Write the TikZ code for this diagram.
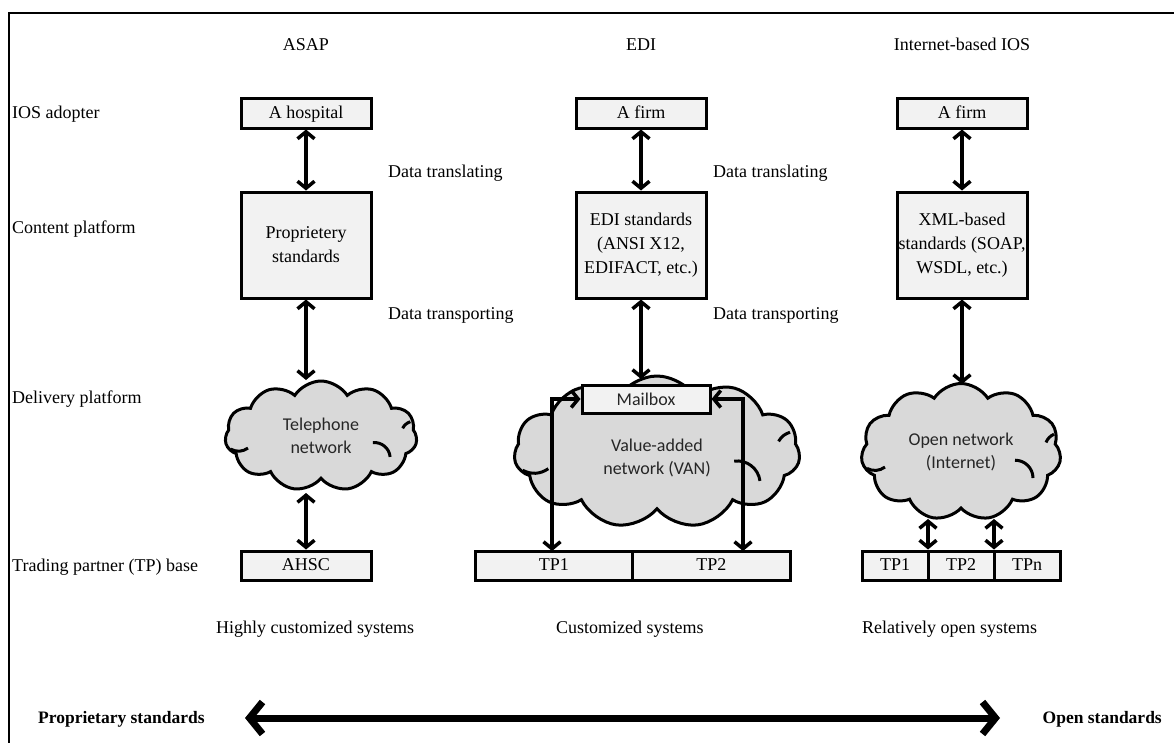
\documentclass[tikz,border=0pt]{standalone}
\usepackage{fontspec}
\setmainfont{Liberation Serif}
\newfontfamily\cloudfont{Carlito}
\usetikzlibrary{arrows.meta,shapes.symbols,calc}
\definecolor{boxfill}{HTML}{F2F2F2}
\definecolor{cloudfill}{HTML}{D9D9D9}
\definecolor{cloudtext}{HTML}{262626}
\tikzset{
  txt/.style={font=\fontsize{18}{23}\selectfont, inner sep=0pt, text height=12pt, text depth=2pt},
  boldtxt/.style={font=\bfseries\fontsize{17.5}{23}\selectfont, inner sep=0pt, text height=12pt, text depth=2pt},
  stdbox/.style={draw, line width=3pt, fill=boxfill, align=center, inner sep=0pt,
    font=\fontsize{18}{24}\selectfont, minimum width=130pt, minimum height=30pt},
  oneline/.style={text height=12pt, text depth=2pt},
  netcloud/.style={cloud, cloud puffs=11, cloud puff arc=115, cloud ignores aspect,
    draw, line width=3pt, fill=cloudfill, align=center, inner sep=0pt,
    font=\cloudfont\fontsize{18}{23}\selectfont, text=cloudtext},
  barb/.tip={Straight Barb[length=7pt,width=17pt]},
  dbl/.style={line width=3.5pt, barb-barb},
  wide/.style={line width=7pt, {Straight Barb[length=13pt,width=32pt]}-{Straight Barb[length=13pt,width=32pt]}}
}
% inner curls of a cloud, given its top-left corner, width and height
\newcommand{\cloudcurls}[4]{%
  \begin{scope}[shift={(#1,#2)}, x=#3pt, y=-#4pt, line width=3pt]
    \draw (0.03,0.62) to[bend right=30] (0.12,0.61);
    \draw (0.77,0.56) to[bend left=45] (0.86,0.69);
    \draw (0.925,0.43) to[bend left=20] (0.965,0.37);
  \end{scope}}
\begin{document}
\begin{tikzpicture}[x=1pt,y=-1pt]
\useasboundingbox (0,0) rectangle (1174,742);
% outer frame
\draw[line width=2pt] (9,745) -- (9,13) -- (1180,13);

% column headings
\node[txt] (hA) at (306,45) {ASAP};
\node[txt] (hE) at (641,45) {EDI};
\node[txt] (hI) at (962,45) {Internet-based IOS};

% row headings
\node[txt, anchor=west] (r1) at (12,113) {IOS adopter};
\node[txt, anchor=west] (r2) at (12,228) {Content platform};
\node[txt, anchor=west] (r3) at (12,398) {Delivery platform};
\node[txt, anchor=west] (r4) at (12,566) {Trading partner (TP) base};

% adopters
\node[stdbox, oneline] (a1) at (306,113) {A hospital};
\node[stdbox, oneline] (a2) at (641,113) {A firm};
\node[stdbox, oneline] (a3) at (962,113) {A firm};

% content platforms
\node[stdbox, minimum height=106pt] (c1) at (306,245) {Proprietery\\standards};
\node[stdbox, minimum height=106pt] (c2) at (641,245) {EDI standards\\(ANSI X12,\\EDIFACT, etc.)};
\node[stdbox, minimum height=106pt] (c3) at (962,245) {XML-based\\standards (SOAP,\\WSDL, etc.)};

% layer transitions
\node[txt, anchor=west] (dt1) at (388,172) {Data translating};
\node[txt, anchor=west] (dt2) at (713,172) {Data translating};
\node[txt, anchor=west] (dp1) at (388,314) {Data transporting};
\node[txt, anchor=west] (dp2) at (713,314) {Data transporting};

% delivery platforms
\node[netcloud, minimum width=192pt, minimum height=110pt] (tel) at (321,436) {Telephone\\network};
\cloudcurls{225}{381}{192}{110}
\node[netcloud, minimum width=286pt, minimum height=152pt] (van) at (657,452) {\\[2pt]Value-added\\network (VAN)};
\cloudcurls{514}{376}{286}{152}
\node[netcloud, minimum width=200pt, minimum height=137pt] (inet) at (961,452) {Open network\\(Internet)};
\cloudcurls{861}{383.5}{200}{137}
\node[stdbox, minimum width=128pt, minimum height=28pt, font=\cloudfont\fontsize{18}{22}\selectfont, text=cloudtext] (mail) at (646,399) {Mailbox};

% trading partner bases
\node[stdbox, oneline, minimum height=29pt] (ahsc) at (306,565.5) {AHSC};
\node[stdbox, oneline, minimum height=29pt, minimum width=157.5pt] (tp1) at (553.75,565.5) {TP1};
\node[stdbox, oneline, minimum height=29pt, minimum width=157.5pt] (tp2) at (711.25,565.5) {TP2};
\node[stdbox, oneline, minimum height=29pt, minimum width=66pt] (tq1) at (895,565.5) {TP1};
\node[stdbox, oneline, minimum height=29pt, minimum width=66pt] (tq2) at (961,565.5) {TP2};
\node[stdbox, oneline, minimum height=29pt, minimum width=66pt] (tq3) at (1027,565.5) {TPn};

% connector end points on the clouds
\coordinate (telTop) at (306,380);
\coordinate (telBot) at (306,493);
\coordinate (vanTop) at (641,379);
\coordinate (inTop) at (962,384);
\coordinate (inB1) at (928,519);
\coordinate (inB2) at (994,519);
\coordinate (ml) at (552,551);
\coordinate (mr) at (743,551);

% connectors
\draw[dbl] (a1.south) -- (c1.north);
\draw[dbl] (a2.south) -- (c2.north);
\draw[dbl] (a3.south) -- (c3.north);
\draw[dbl] (c1.south) -- (telTop);
\draw[dbl] (c2.south) -- (vanTop);
\draw[dbl] (c3.south) -- (inTop);
\draw[dbl] (telBot) -- (ahsc.north);
\draw[dbl] (mail.west) -| (ml);
\draw[dbl] (mail.east) -| (mr);
\draw[dbl] (inB1) -- (inB1 |- tq1.north);
\draw[dbl] (inB2) -- (inB2 |- tq2.north);

% openness of the systems
\node[txt, anchor=west] (s1) at (216,628) {Highly customized systems};
\node[txt, anchor=west] (s2) at (556,628) {Customized systems};
\node[txt, anchor=west] (s3) at (862,628) {Relatively open systems};

\node[boldtxt, anchor=west] (ps) at (38,718) {Proprietary standards};
\node[boldtxt, anchor=east] (os) at (1162,718) {Open standards};
\coordinate (sl) at (245,718);
\coordinate (sr) at (1000,718);
\draw[wide] (sl) -- (sr);
\end{tikzpicture}
\end{document}
